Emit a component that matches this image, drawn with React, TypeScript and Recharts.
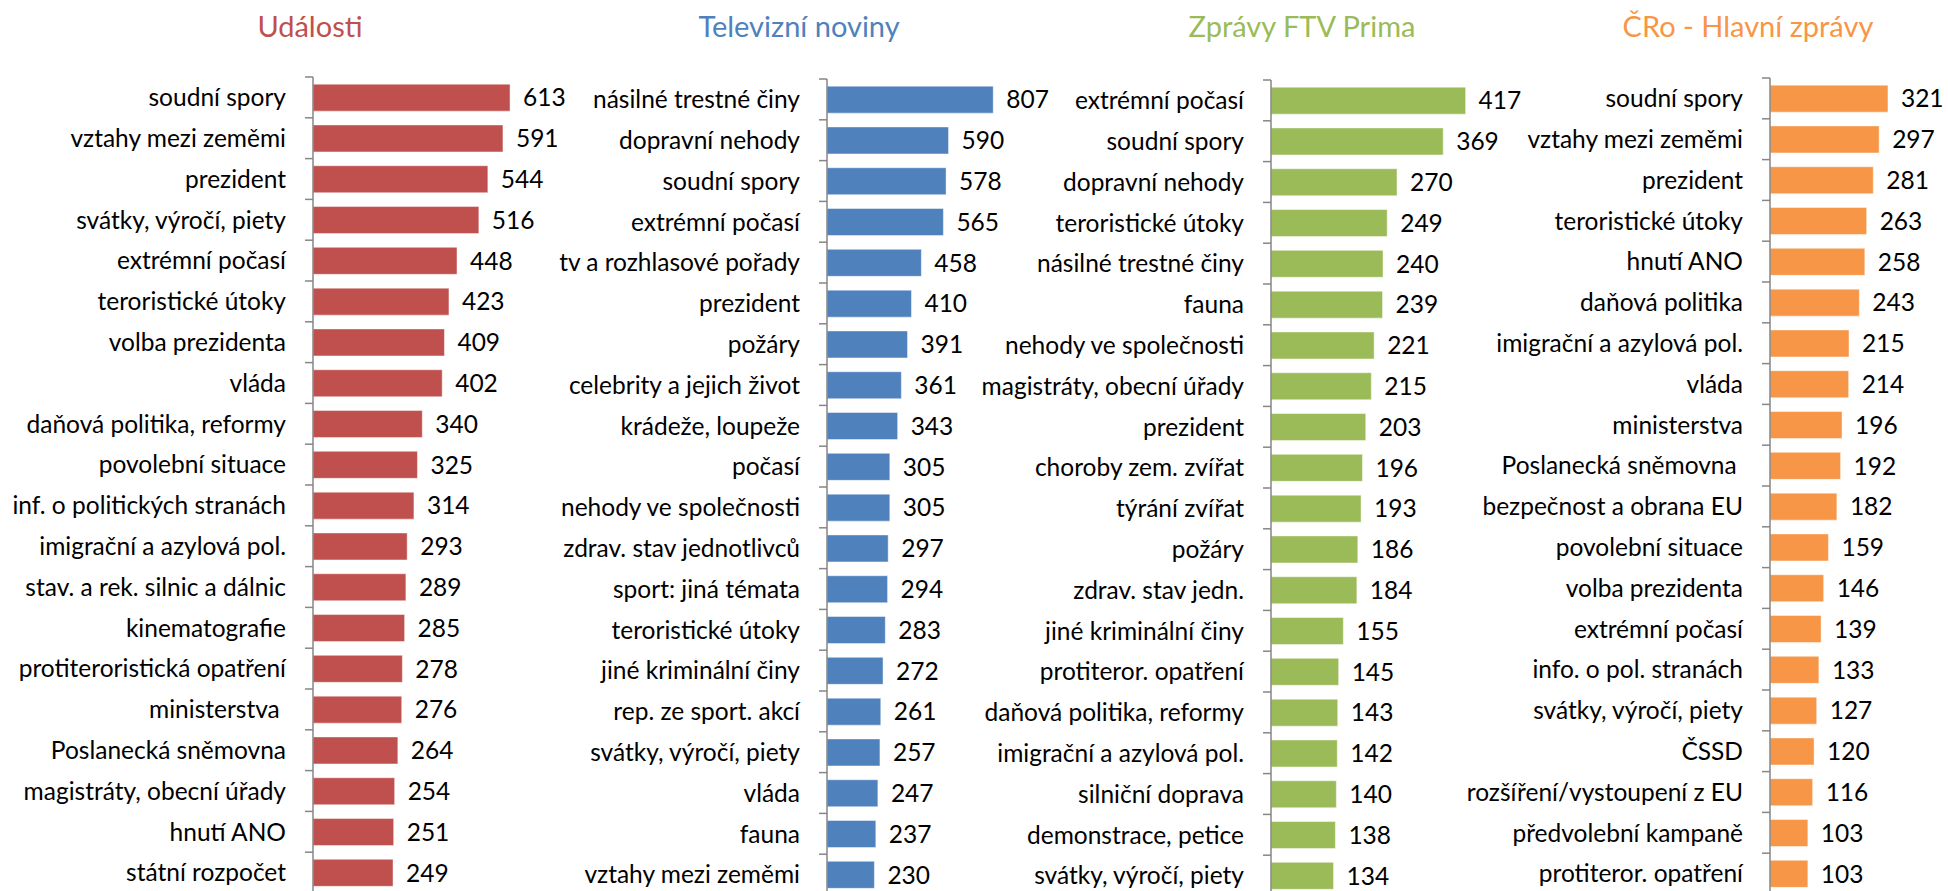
import { BarChart, Bar, XAxis, YAxis, LabelList } from 'recharts';

const udalostiNames = [
  'soudní spory', 'vztahy mezi zeměmi', 'prezident', 'svátky, výročí, piety', 'extrémní počasí',
  'teroristické útoky', 'volba prezidenta', 'vláda', 'daňová politika, reformy', 'povolební situace',
  'inf. o politických stranách', 'imigrační a azylová pol.', 'stav. a rek. silnic a dálnic', 'kinematografie',
  'protiteroristická opatření', 'ministerstva ', 'Poslanecká sněmovna', 'magistráty, obecní úřady',
  'hnutí ANO', 'státní rozpočet',
];
const udalostiValues = [613, 591, 544, 516, 448, 423, 409, 402, 340, 325, 314, 293, 289, 285, 278, 276, 264, 254, 251, 249];

const tvNames = [
  'násilné trestné činy', 'dopravní nehody', 'soudní spory', 'extrémní počasí', 'tv a rozhlasové pořady',
  'prezident', 'požáry', 'celebrity a jejich život', 'krádeže, loupeže', 'počasí',
  'nehody ve společnosti', 'zdrav. stav jednotlivců', 'sport: jiná témata', 'teroristické útoky',
  'jiné kriminální činy', 'rep. ze sport. akcí', 'svátky, výročí, piety', 'vláda', 'fauna', 'vztahy mezi zeměmi',
];
const tvValues = [807, 590, 578, 565, 458, 410, 391, 361, 343, 305, 305, 297, 294, 283, 272, 261, 257, 247, 237, 230];

const primaNames = [
  'extrémní počasí', 'soudní spory', 'dopravní nehody', 'teroristické útoky', 'násilné trestné činy',
  'fauna', 'nehody ve společnosti', 'magistráty, obecní úřady', 'prezident', 'choroby zem. zvířat',
  'týrání zvířat', 'požáry', 'zdrav. stav jedn.', 'jiné kriminální činy', 'protiteror. opatření',
  'daňová politika, reformy', 'imigrační a azylová pol.', 'silniční doprava', 'demonstrace, petice',
  'svátky, výročí, piety',
];
const primaValues = [417, 369, 270, 249, 240, 239, 221, 215, 203, 196, 193, 186, 184, 155, 145, 143, 142, 140, 138, 134];

const croNames = [
  'soudní spory', 'vztahy mezi zeměmi', 'prezident', 'teroristické útoky', 'hnutí ANO',
  'daňová politika', 'imigrační a azylová pol.', 'vláda', 'ministerstva', 'Poslanecká sněmovna ',
  'bezpečnost a obrana EU', 'povolební situace', 'volba prezidenta', 'extrémní počasí',
  'info. o pol. stranách', 'svátky, výročí, piety', 'ČSSD', 'rozšíření/vystoupení z EU',
  'předvolební kampaně', 'protiteror. opatření',
];
const croValues = [321, 297, 281, 263, 258, 243, 215, 214, 196, 192, 182, 159, 146, 139, 133, 127, 120, 116, 103, 103];

const FONT = 'Lato, "Noto Sans", sans-serif';
const FS = 24.5;
const PLOT_H = 816;
const BAND = PLOT_H / 20;

function CatTick(props: any) {
  const { x, y, payload } = props;
  return (
    <g>
      <line x1={x + 19} x2={x + 27} y1={y - BAND / 2} y2={y - BAND / 2} stroke="#868686" strokeWidth={1.5} />
      <text x={x} y={y} dy="0.36em" textAnchor="end" fontSize={FS} fontFamily={FONT} fill="#000" style={{ whiteSpace: 'pre' }}>
        {payload.value}
      </text>
    </g>
  );
}

interface PanelProps {
  title: string;
  color: string;
  names: string[];
  values: number[];
  left: number;
  axisX: number;
  plotW: number;
  max: number;
  top: number;
  titleX: number;
}

function Panel({ title, color, names, values, left, axisX, plotW, max, top, titleX }: PanelProps) {
  const data = names.map((name, i) => ({ name, value: values[i] }));
  const axisW = axisX - left;
  return (
    <>
      <div style={{ position: 'absolute', left: titleX - 200, width: 400, top: 8, textAlign: 'center', color, fontSize: 29, fontFamily: FONT }}>
        {title}
      </div>
      <div style={{ position: 'absolute', left, top: 0 }}>
        <BarChart width={axisW + plotW + 70} height={top + PLOT_H} data={data} layout="vertical"
          margin={{ top, right: 70, bottom: 0, left: 0 }} barCategoryGap="17.5%">
          <XAxis type="number" hide domain={[0, max]} />
          <YAxis type="category" dataKey="name" width={axisW} tickSize={8} tickMargin={19} tickLine={false}
            axisLine={{ stroke: '#868686', strokeWidth: 1.5 }} tick={<CatTick />} interval={0} />
          <Bar dataKey="value" fill={color} stroke="rgba(255,255,255,0.45)" strokeWidth={1} isAnimationActive={false}>
            <LabelList dataKey="value" position="right" offset={13} fill="#000" fontSize={FS} fontFamily={FONT} isAnimationActive={false} />
          </Bar>
        </BarChart>
      </div>
    </>
  );
}

export default function App() {
  return (
    <div style={{ position: 'absolute', left: 0, top: 0, width: 1948, height: 891, overflow: 'hidden', background: '#fff', fontFamily: FONT }}>
      <Panel title="Události" color="#C0504D" names={udalostiNames} values={udalostiValues}
        left={0} axisX={313} plotW={225} max={700} top={77} titleX={310} />
      <Panel title="Televizní noviny" color="#4F81BD" names={tvNames} values={tvValues}
        left={530} axisX={827} plotW={206} max={1000} top={79} titleX={799} />
      <Panel title="Zprávy FTV Prima" color="#9BBB59" names={primaNames} values={primaValues}
        left={940} axisX={1271} plotW={210} max={450} top={80} titleX={1302} />
      <Panel title="ČRo - Hlavní zprávy" color="#F79646" names={croNames} values={croValues}
        left={1440} axisX={1770} plotW={147} max={400} top={78} titleX={1748} />
    </div>
  );
}
